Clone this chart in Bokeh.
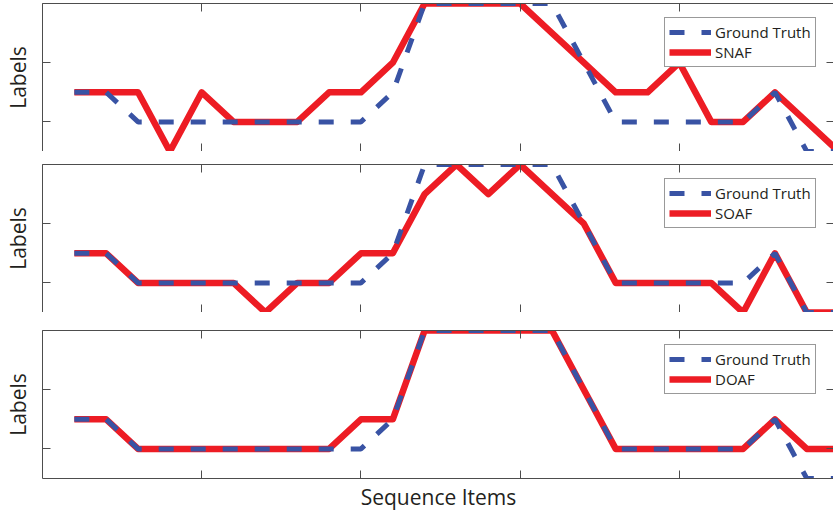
from bokeh.plotting import figure
from bokeh.models import LinearAxis, FixedTicker, Legend, LegendItem
from bokeh.layouts import column
from bokeh.embed import file_html
from bokeh.resources import INLINE

# ---- data ----
items = [1, 2, 3, 4, 5, 6, 7, 8, 9, 10, 11, 12, 13, 14, 15, 16, 17, 18, 19, 20, 21, 22, 23, 24, 25]
ground_truth = [2, 2, 1, 1, 1, 1, 1, 1, 1, 1, 2, 5, 5, 5, 5, 5, 3, 1, 1, 1, 1, 1, 2, 0, 0]
snaf = [2, 2, 2, 0, 2, 1, 1, 1, 2, 2, 3, 5, 5, 5, 5, 4, 3, 2, 2, 3, 1, 1, 2, 1, 0]
soaf = [2, 2, 1, 1, 1, 1, 0, 1, 1, 2, 2, 4, 5, 4, 5, 4, 3, 1, 1, 1, 1, 0, 2, 0, 0]
doaf = [2, 2, 1, 1, 1, 1, 1, 1, 1, 2, 2, 5, 5, 5, 5, 5, 3, 1, 1, 1, 1, 1, 2, 1, 1]
x_ticks = [5, 10, 15, 20]
y_ticks = [1, 3, 5]

FONT = "Open Sans"
TXT = "#231f20"
AX = "#4d4d4d"
RED = "#ED1C24"
BLUE = "#3953A4"


def style_axis(ax, ticks):
    ax.ticker = FixedTicker(ticks=ticks)
    ax.major_label_overrides = {t: "" for t in ticks}
    ax.major_label_text_font_size = "0px"
    ax.major_label_standoff = 0
    ax.major_tick_in = 8
    ax.major_tick_out = 0
    ax.minor_tick_in = 0
    ax.minor_tick_out = 0
    ax.axis_line_color = AX
    ax.axis_line_width = 1
    ax.major_tick_line_color = AX
    ax.major_tick_line_width = 1


def panel(name, pred, top, bottom, xlabel=None):
    p = figure(frame_width=792, frame_height=148, x_range=(0, 24.87), y_range=(0, 5),
               output_backend="svg", toolbar_location=None,
               min_border_left=41, min_border_right=0,
               min_border_top=top, min_border_bottom=bottom)
    p.grid.visible = False
    p.outline_line_color = None
    p.background_fill_color = "white"
    p.border_fill_color = "white"
    p.add_layout(LinearAxis(), "above")
    p.add_layout(LinearAxis(), "right")
    for ax in p.xaxis:
        style_axis(ax, x_ticks)
    for ax in p.yaxis:
        style_axis(ax, y_ticks)
    yl = p.yaxis[0]
    yl.axis_label = "Labels"
    yl.axis_label_text_font = FONT
    yl.axis_label_text_font_size = "21px"
    yl.axis_label_text_font_style = "normal"
    yl.axis_label_text_color = TXT
    yl.axis_label_standoff = 11
    if xlabel:
        xl = p.below[0]
        xl.axis_label = xlabel
        xl.axis_label_text_font = FONT
        xl.axis_label_text_font_size = "21px"
        xl.axis_label_text_font_style = "normal"
        xl.axis_label_text_color = TXT
        xl.axis_label_standoff = 4

    r_pred = p.line(items, pred, line_color=RED, line_width=6.5, line_join="round")
    r_gt = p.line(items, ground_truth, line_color=BLUE, line_width=5,
                  line_dash="15 17", line_cap="butt")

    leg = Legend(items=[LegendItem(label="Ground Truth", renderers=[r_gt]),
                        LegendItem(label=name, renderers=[r_pred])],
                 location=(622, 84))
    leg.label_text_font = FONT
    leg.label_text_font_size = "15px"
    leg.label_text_color = TXT
    leg.glyph_width = 42
    leg.glyph_height = 18
    leg.label_height = 18
    leg.label_standoff = 4
    leg.spacing = 0
    leg.padding = 4
    leg.margin = 0
    leg.border_line_color = "#333333"
    leg.border_line_width = 1
    leg.background_fill_color = "white"
    leg.background_fill_alpha = 1
    p.add_layout(leg)
    return p


p1 = panel("SNAF", snaf, 3, 0)
p2 = panel("SOAF", soaf, 13, 0)
p3 = panel("DOAF", doaf, 18, 33, xlabel="Sequence Items")

layout = column(p1, p2, p3, spacing=0)
open("out.html", "w").write(file_html(layout, INLINE))
